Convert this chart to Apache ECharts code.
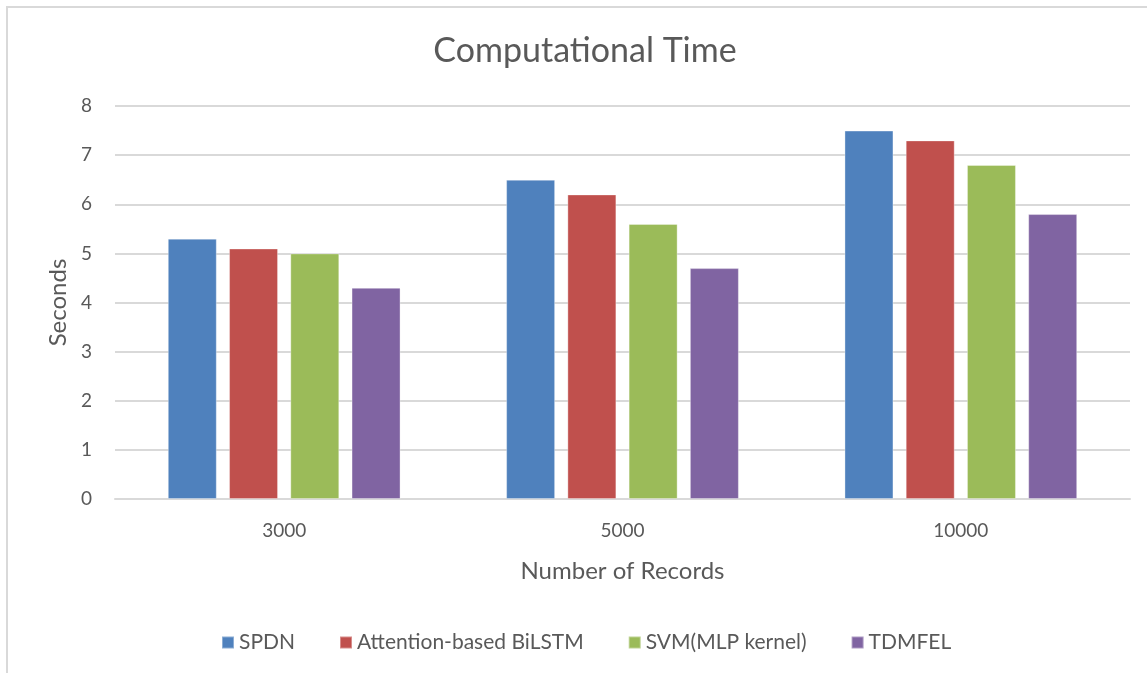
<!DOCTYPE html>
<html>
<head>
<meta charset="utf-8">
<script src="https://cdn.jsdelivr.net/npm/echarts@6/dist/echarts.min.js"></script>
<style>
html,body{margin:0;padding:0;background:#fff;}
#chart{width:1147px;height:673px;}
</style>
</head>
<body>
<div id="chart"></div>
<script>
const categories = ['3000', '5000', '10000'];
const seriesNames = ['SPDN', 'Attention-based BiLSTM', 'SVM(MLP kernel)', 'TDMFEL'];
const spdn = [5.3, 6.5, 7.5];
const bilstm = [5.1, 6.2, 7.3];
const svm = [5.0, 5.6, 6.8];
const tdmfel = [4.3, 4.7, 5.8];
const yTicks = [0, 1, 2, 3, 4, 5, 6, 7, 8];
const colors = ['#4F81BD', '#C0504D', '#9BBB59', '#8064A2'];

const seriesData = [spdn, bilstm, svm, tdmfel];
const FONT = 'Lato, "Open Sans", sans-serif';
const TXT = '#595959';

const chart = echarts.init(document.getElementById('chart'), null, {renderer: 'canvas'});
chart.setOption({
  animation: false,
  backgroundColor: '#ffffff',
  color: colors,
  title: {
    text: 'Computational Time',
    left: 580, top: 29, textAlign: 'center',
    textStyle: {fontFamily: FONT, fontSize: 34, fontWeight: 'normal', color: TXT}
  },
  legend: {
    data: seriesNames,
    left: 216, top: 627,
    itemWidth: 12, itemHeight: 12, itemGap: 44,
    icon: 'rect',
    textStyle: {fontFamily: FONT, fontSize: 21, color: TXT}
  },
  grid: {left: 115, right: 17, top: 106, bottom: 174, containLabel: false},
  xAxis: {
    type: 'category',
    data: categories,
    name: 'Number of Records',
    nameLocation: 'middle',
    nameGap: 60,
    nameTextStyle: {fontFamily: FONT, fontSize: 24, color: TXT},
    axisLine: {show: true, lineStyle: {color: '#d9d9d9', width: 2}},
    axisTick: {show: false},
    axisLabel: {fontFamily: FONT, fontSize: 19, color: TXT, margin: 22}
  },
  yAxis: {
    type: 'value',
    min: yTicks[0], max: yTicks[yTicks.length - 1], interval: 1,
    name: 'Seconds',
    nameLocation: 'middle',
    nameGap: 45,
    nameTextStyle: {fontFamily: FONT, fontSize: 24, color: TXT},
    axisLine: {show: false},
    axisTick: {show: false},
    axisLabel: {fontFamily: FONT, fontSize: 19, color: TXT, margin: 23},
    splitLine: {lineStyle: {color: '#d9d9d9', width: 2}}
  },
  series: seriesNames.map((n, i) => ({
    name: n,
    type: 'bar',
    data: seriesData[i],
    barWidth: 49,
    barGap: '25%',
    itemStyle: {color: colors[i], borderColor: 'rgba(255,255,255,0.35)', borderWidth: 1}
  })),
  graphic: [
    {type: 'line', shape: {x1: 7, y1: 7, x2: 7, y2: 673}, style: {stroke: '#d9d9d9', lineWidth: 2}},
    {type: 'line', shape: {x1: 6, y1: 7, x2: 1147, y2: 7}, style: {stroke: '#d9d9d9', lineWidth: 2}}
  ]
});
</script>
</body>
</html>
